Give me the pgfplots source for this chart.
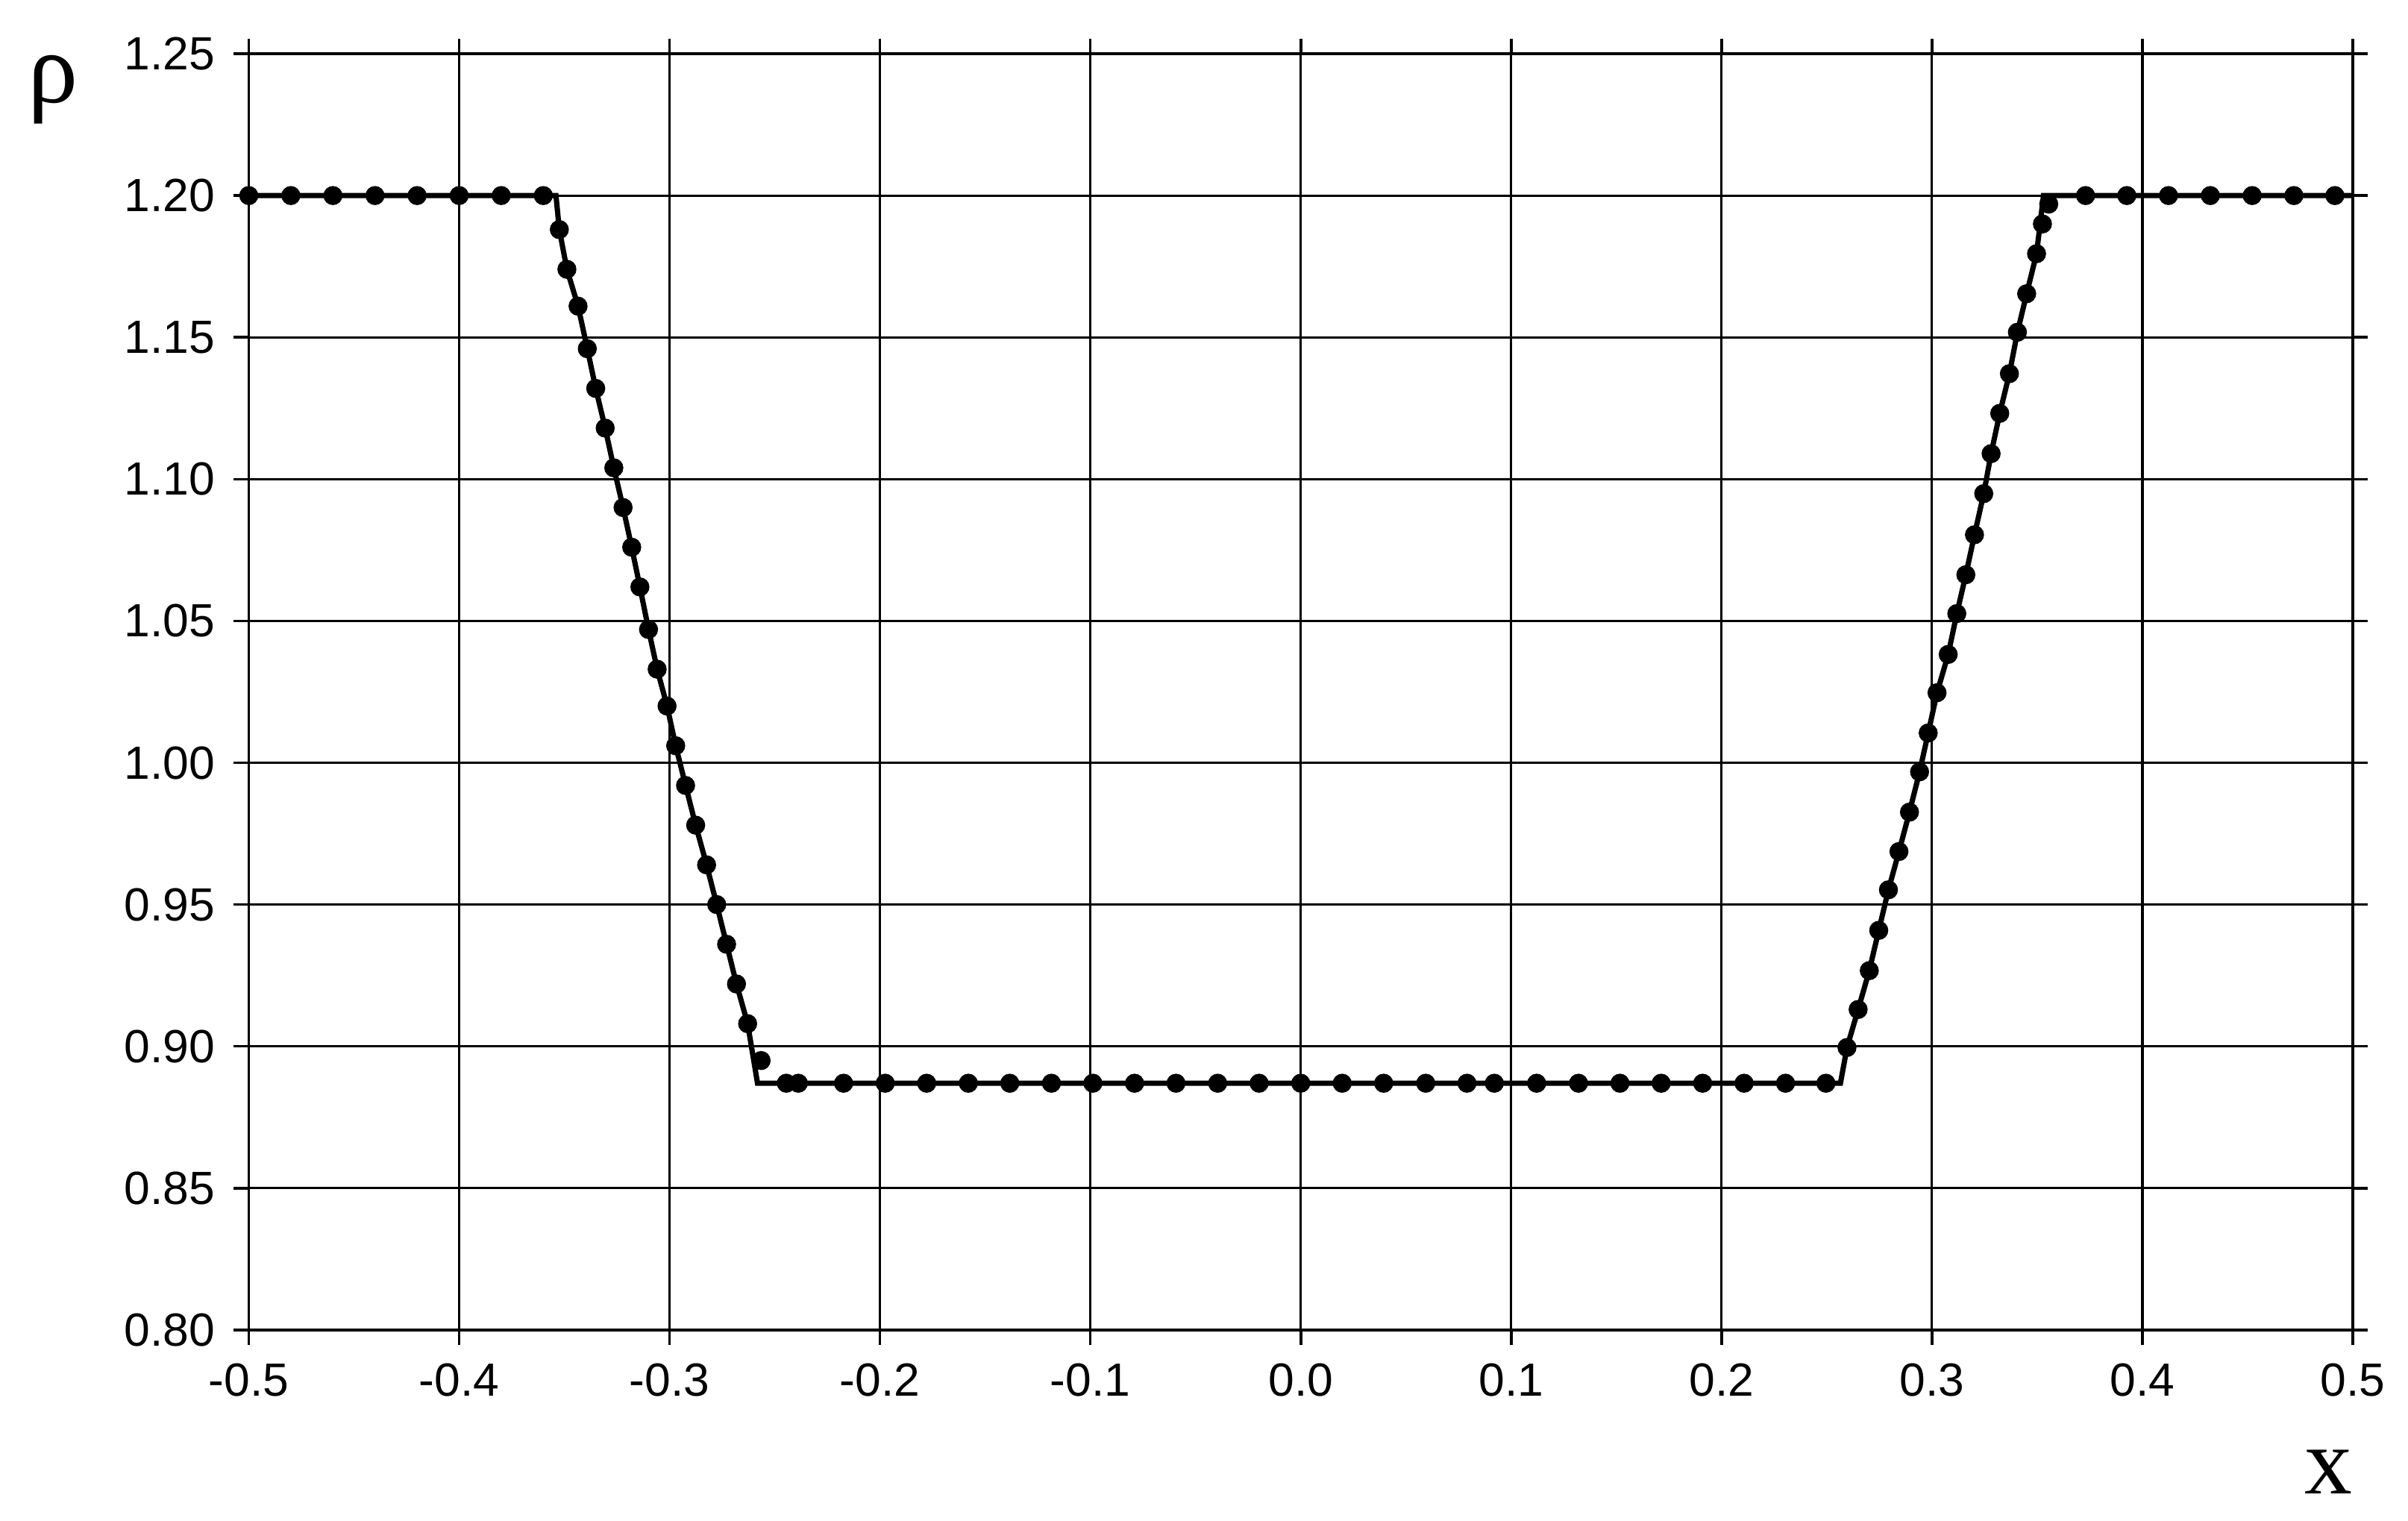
\documentclass[border=0pt]{standalone}
\usepackage{fontspec}
\setmainfont{Liberation Sans}
\newfontfamily\serifrm{Liberation Serif}
\usepackage{pgfplots}
\pgfplotsset{compat=1.18}

\begin{document}
\begin{tikzpicture}
\begin{axis}[
  scale only axis,
  width=13.98cm, height=8.48cm,
  xmin=-0.5, xmax=0.5, ymin=0.8, ymax=1.25,
  xtick={-0.5,-0.4,-0.3,-0.2,-0.1,0,0.1,0.2,0.3,0.4,0.5},
  ytick={0.8,0.85,0.9,0.95,1.0,1.05,1.1,1.15,1.2,1.25},
  grid=major,
  grid style={black, line width=0.45pt},
  axis line style={black, line width=0.5pt},
  tick align=outside,
  major tick length=0.1cm,
  tick style={black, line width=0.5pt},
  /pgf/number format/assume math mode=true,
  ticklabel style={font=\fontsize{8.8}{10}\selectfont},
  xticklabel style={/pgf/number format/.cd, fixed, fixed zerofill, precision=1},
  yticklabel style={/pgf/number format/.cd, fixed, fixed zerofill, precision=2},
  xlabel={x},
  ylabel={ρ},
  xlabel style={font=\serifrm\fontsize{18}{18}\selectfont, at={(rel axis cs:0.9886,-0.111)}, anchor=center},
  ylabel style={font=\serifrm\fontsize{19}{19}\selectfont, at={(rel axis cs:-0.093,0.972)}, anchor=center, rotate=-90},
]
% exact solution
\addplot[black, line width=1pt, mark=none] coordinates {
  (-0.5,1.2) (-0.354,1.2)
  (-0.3524,1.188) (-0.3488,1.174) (-0.3435,1.161) (-0.3391,1.146) (-0.3351,1.132)
  (-0.3306,1.118) (-0.3265,1.104) (-0.3221,1.090) (-0.3180,1.076) (-0.3141,1.062)
  (-0.3100,1.047) (-0.3059,1.033) (-0.3012,1.020) (-0.2971,1.006) (-0.2924,0.992)
  (-0.2876,0.978) (-0.2824,0.964) (-0.2776,0.950) (-0.2729,0.936) (-0.2682,0.922)
  (-0.2629,0.908) (-0.2582,0.887) (0.2565,0.887)
  (0.2596,0.8996) (0.2649,0.913) (0.2702,0.9267) (0.2747,0.9409) (0.2793,0.9552)
  (0.2843,0.9687) (0.2893,0.9826) (0.2941,0.9968) (0.2982,1.0105) (0.3024,1.0247)
  (0.3077,1.0382) (0.3118,1.0526) (0.3161,1.0663) (0.3202,1.0804) (0.3246,1.0949)
  (0.3281,1.109) (0.3322,1.1232) (0.3368,1.1372) (0.3406,1.1518) (0.3450,1.1654)
  (0.3497,1.1795) (0.353,1.2) (0.5,1.2)
};
% numerical solution
\addplot[only marks, mark=*, mark size=1.6pt, black] coordinates {
  (-0.50,1.2) (-0.48,1.2) (-0.46,1.2) (-0.44,1.2) (-0.42,1.2) (-0.40,1.2) (-0.38,1.2) (-0.36,1.2)
  (-0.3524,1.188) (-0.3488,1.174) (-0.3435,1.161) (-0.3391,1.146) (-0.3351,1.132)
  (-0.3306,1.118) (-0.3265,1.104) (-0.3221,1.090) (-0.3180,1.076) (-0.3141,1.062)
  (-0.3100,1.047) (-0.3059,1.033) (-0.3012,1.020) (-0.2971,1.006) (-0.2924,0.992)
  (-0.2876,0.978) (-0.2824,0.964) (-0.2776,0.950) (-0.2729,0.936) (-0.2682,0.922)
  (-0.2629,0.908) (-0.2565,0.895)
  (-0.2445,0.887) (-0.2388,0.887) (-0.2173,0.887) (-0.1975,0.887) (-0.1778,0.887)
  (-0.1580,0.887) (-0.1383,0.887) (-0.1185,0.887) (-0.0988,0.887) (-0.0790,0.887)
  (-0.0593,0.887) (-0.0395,0.887) (-0.0198,0.887) (0.0,0.887) (0.0197,0.887)
  (0.0394,0.887) (0.0594,0.887) (0.0790,0.887) (0.0920,0.887) (0.1121,0.887)
  (0.1320,0.887) (0.1517,0.887) (0.1713,0.887) (0.1910,0.887) (0.2107,0.887)
  (0.2304,0.887) (0.2496,0.887)
  (0.2596,0.8996) (0.2649,0.913) (0.2702,0.9267) (0.2747,0.9409) (0.2793,0.9552)
  (0.2843,0.9687) (0.2893,0.9826) (0.2941,0.9968) (0.2982,1.0105) (0.3024,1.0247)
  (0.3077,1.0382) (0.3118,1.0526) (0.3161,1.0663) (0.3202,1.0804) (0.3246,1.0949)
  (0.3281,1.109) (0.3322,1.1232) (0.3368,1.1372) (0.3406,1.1518) (0.3450,1.1654)
  (0.3497,1.1795) (0.3525,1.190) (0.3555,1.197)
  (0.3730,1.2) (0.3926,1.2) (0.4124,1.2) (0.4323,1.2) (0.4522,1.2) (0.4720,1.2) (0.4915,1.2)
};
\end{axis}
\pgfresetboundingbox
\path[use as bounding box] (-1.653,-1.265) rectangle (14.347,8.837);
\end{tikzpicture}
\end{document}
